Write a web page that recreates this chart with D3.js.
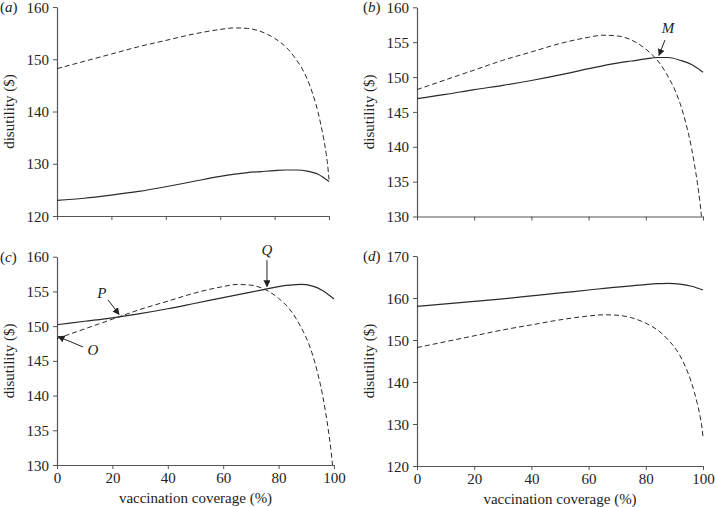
<!DOCTYPE html>
<html>
<head>
<meta charset="utf-8">
<script src="https://cdn.jsdelivr.net/npm/d3@7"></script>
<style>
  html, body { margin: 0; padding: 0; background: #fff; }
  svg text { font-family: "Liberation Serif", "Times New Roman", serif; fill: #222; }
</style>
</head>
<body>
<svg id="chart" width="715" height="507"></svg>
<script>
// ---------- data ----------
const coverage = [0, 10, 20, 30, 40, 50, 60, 65, 70, 75, 80, 85, 88, 90, 92, 94, 96, 97, 98, 99, 99.5, 100];
const baselineDashed = [148.2, 149.6, 151.0, 152.4, 153.6, 154.8, 155.7, 156.0, 155.9, 155.3, 154.0, 151.9, 149.9, 148.3, 146.2, 143.4, 139.8, 137.5, 134.9, 131.8, 129.8, 127.0];

const solidX = [0, 10, 20, 30, 40, 50, 60, 70, 75, 80, 84, 88, 92, 96, 100];
const solidA = [123.0, 123.4, 124.0, 124.7, 125.6, 126.6, 127.6, 128.3, 128.5, 128.7, 128.8, 128.8, 128.6, 128.0, 126.6];
const solidB = [146.9, 147.5, 148.2, 148.8, 149.5, 150.3, 151.2, 152.0, 152.3, 152.6, 152.8, 152.8, 152.4, 151.8, 150.7];
const solidC = [150.2, 150.7, 151.2, 151.8, 152.5, 153.3, 154.1, 154.9, 155.3, 155.7, 155.9, 156.0, 155.8, 155.1, 153.9];
const solidD = [158.0, 158.6, 159.2, 159.8, 160.5, 161.2, 161.9, 162.6, 162.9, 163.2, 163.4, 163.5, 163.3, 162.8, 161.9];

const xTicks = [0, 20, 40, 60, 80, 100];
const yTicksA = [120, 130, 140, 150, 160];
const yTicksB = [130, 135, 140, 145, 150, 155, 160];
const yTicksC = [130, 135, 140, 145, 150, 155, 160];
const yTicksD = [120, 130, 140, 150, 160, 170];

const panelLetters = ["a", "b", "c", "d"];
const yAxisTitle = "disutility ($)";
const xAxisTitle = "vaccination coverage (%)";

// annotations: [label, label x%, label y, arrow start x%, start y, arrow end x%, end y]
const annB = [["M", 87.8, 157.0, 86.7, 155.3, 84.6, 153.1]];
const annC = [
  ["P", 16.2, 154.8, 18.4, 153.8, 22.4, 151.7],
  ["O", 13.0, 146.6, 9.4, 147.0, 0.4, 148.5],
  ["Q", 75.8, 161.0, 75.8, 159.5, 75.8, 155.7]
];

// ---------- layout ----------
const panels = [
  { letter: panelLetters[0], left: 57, right: 329, top: 7, bottom: 216, y: [120, 160], yt: yTicksA, solid: solidA, xlab: false, ann: [] },
  { letter: panelLetters[1], left: 417, right: 703, top: 7.3, bottom: 216.5, y: [130, 160], yt: yTicksB, solid: solidB, xlab: false, ann: annB },
  { letter: panelLetters[2], left: 57, right: 334, top: 256.7, bottom: 465, y: [130, 160], yt: yTicksC, solid: solidC, xlab: true, ann: annC },
  { letter: panelLetters[3], left: 417, right: 703, top: 256, bottom: 466, y: [120, 170], yt: yTicksD, solid: solidD, xlab: true, ann: [] }
];

const svg = d3.select("#chart");
const defs = svg.append("defs");
defs.append("marker")
  .attr("id", "arrow")
  .attr("viewBox", "0 0 10 10")
  .attr("refX", 9).attr("refY", 5)
  .attr("markerWidth", 7).attr("markerHeight", 7)
  .attr("markerUnits", "userSpaceOnUse")
  .attr("orient", "auto")
  .append("path").attr("d", "M0,0L10,5L0,10z").attr("fill", "#222");

const axisColor = "#555";
const lineColor = "#2a2a2a";

panels.forEach((p, i) => {
  const x = d3.scaleLinear().domain([0, 100]).range([p.left, p.right]);
  const y = d3.scaleLinear().domain(p.y).range([p.bottom, p.top]);
  const g = svg.append("g");

  defs.append("clipPath").attr("id", "clip" + i)
    .append("rect").attr("x", p.left).attr("y", p.top - 2)
    .attr("width", p.right - p.left + 2).attr("height", p.bottom - p.top + 2);

  // x axis
  const xa = g.append("g").attr("transform", `translate(0,${p.bottom})`)
    .call(d3.axisBottom(x).tickValues(xTicks).tickSize(4).tickSizeOuter(0)
      .tickFormat(p.xlab ? d3.format("d") : () => ""));
  // y axis
  const ya = g.append("g").attr("transform", `translate(${p.left},0)`)
    .call(d3.axisLeft(y).tickValues(p.yt).tickSize(4).tickSizeOuter(0).tickFormat(d3.format("d")));
  [xa, ya].forEach(a => {
    a.select(".domain").attr("stroke", axisColor).attr("stroke-width", 1.2);
    a.selectAll(".tick line").attr("stroke", axisColor).attr("stroke-width", 1);
    a.selectAll(".tick text").attr("font-size", 15)
      .attr("font-family", "'Liberation Serif', 'Times New Roman', serif").attr("fill", "#222");
  });
  ya.selectAll(".tick text").attr("x", -8).attr("dy", "0.34em");
  xa.selectAll(".tick text").attr("y", 7).attr("dy", "0.71em");

  // y title
  g.append("text")
    .attr("transform", `translate(${p.left - 43},${(p.top + p.bottom) / 2}) rotate(-90)`)
    .attr("text-anchor", "middle").attr("font-size", 15).text(yAxisTitle);

  if (p.xlab) {
    g.append("text").attr("x", (p.left + p.right) / 2).attr("y", p.bottom + 38)
      .attr("text-anchor", "middle").attr("font-size", 15).text(xAxisTitle);
  }

  // panel letter
  const lt = g.append("text").attr("x", p.left - 57 + (i % 2 ? 3 : 0)).attr("y", p.top + 5).attr("font-size", 15);
  lt.append("tspan").text("(");
  lt.append("tspan").attr("font-style", "italic").text(p.letter);
  lt.append("tspan").text(")");

  // curves
  const lineGen = d3.line().x(d => x(d[0])).y(d => y(d[1])).curve(d3.curveMonotoneX);
  const plot = g.append("g").attr("clip-path", `url(#clip${i})`);
  plot.append("path")
    .datum(coverage.map((c, k) => [c, baselineDashed[k]]))
    .attr("d", lineGen).attr("fill", "none").attr("stroke", lineColor)
    .attr("stroke-width", 1).attr("stroke-dasharray", "5,3");
  plot.append("path")
    .datum(solidX.map((c, k) => [c, p.solid[k]]))
    .attr("d", lineGen).attr("fill", "none").attr("stroke", lineColor)
    .attr("stroke-width", 1.2);

  // annotations
  p.ann.forEach(a => {
    g.append("text").attr("x", x(a[1])).attr("y", y(a[2]))
      .attr("text-anchor", "middle").attr("dy", "0.35em")
      .attr("font-size", 15).attr("font-style", "italic").text(a[0]);
    g.append("line")
      .attr("x1", x(a[3])).attr("y1", y(a[4])).attr("x2", x(a[5])).attr("y2", y(a[6]))
      .attr("stroke", "#222").attr("stroke-width", 1).attr("marker-end", "url(#arrow)");
  });
});
</script>
</body>
</html>
